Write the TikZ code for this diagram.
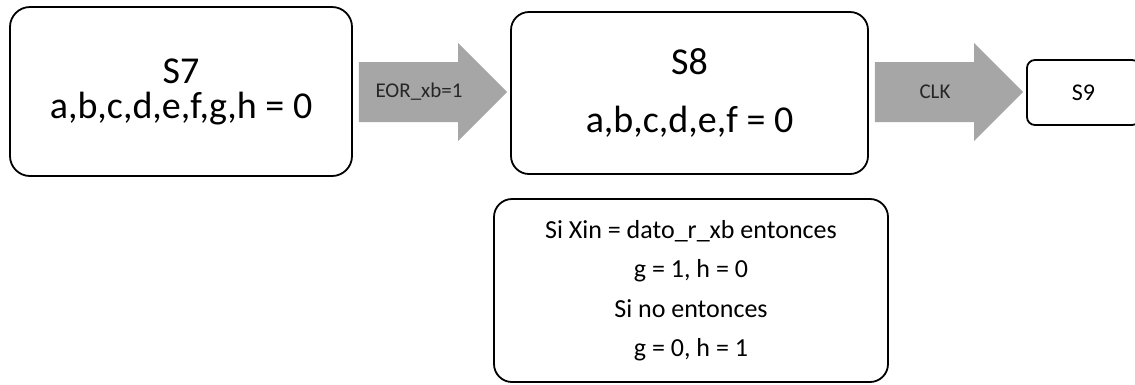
\documentclass[tikz,border=0pt]{standalone}
\usepackage{fontspec}
\setmainfont{Carlito}
\usetikzlibrary{calc}
\definecolor{arrowgray}{HTML}{A6A6A6}
\definecolor{labelgray}{HTML}{262626}

\tikzset{
  state/.style={draw=black, line width=1.8pt, rounded corners=#1,
                inner sep=0pt, align=center, text=black},
  arrowlabel/.style={text=labelgray, inner sep=0pt,
                     font=\fontsize{21}{24}\selectfont},
}

% Wide grey block arrow between two nodes, with its label on the shaft
\newcommand\blockarrow[4]{%
  \path let \p1=(#1.east), \p2=(#2.west) in
    [fill=arrowgray]
      (\x1+6pt,-62pt) -- (\x2-52pt,-62pt) -- (\x2-52pt,-43pt)
      -- (\x2-3pt,-92pt) -- (\x2-52pt,-141pt) -- (\x2-52pt,-122pt)
      -- (\x1+6pt,-122pt) -- cycle
    node[arrowlabel] (#3) at (\x1/2+\x2/2-12.5pt,-92pt) {#4};
}

\begin{document}
\begin{tikzpicture}[x=1pt, y=-1pt]
  \useasboundingbox (0,0) rectangle (1135,384);

  \node[state=20pt, minimum width=342pt, minimum height=169pt,
        font=\fontsize{38}{35}\selectfont] (s7) at (181,91.5)
    {S7\\a,b,c,d,e,f,g,h = 0};

  \node[state=18pt, minimum width=357pt, minimum height=162pt,
        font=\fontsize{38}{58}\selectfont] (s8) at (689.5,93)
    {S8\\a,b,c,d,e,f = 0};

  \node[state=8pt, minimum width=113pt, minimum height=65pt,
        font=\fontsize{24}{28}\selectfont] (s9) at (1083.5,92.5) {S9};

  \node[state=18pt, minimum width=394pt, minimum height=183pt,
        font=\fontsize{26}{39.5}\selectfont] (cond) at (691,290.5)
    {Si Xin = dato\_r\_xb entonces\\g = 1, h = 0\\Si no entonces\\g = 0, h = 1};

  \blockarrow{s7}{s8}{t1}{EOR\_xb=1}
  \blockarrow{s8}{s9}{t2}{CLK}
\end{tikzpicture}
\end{document}
